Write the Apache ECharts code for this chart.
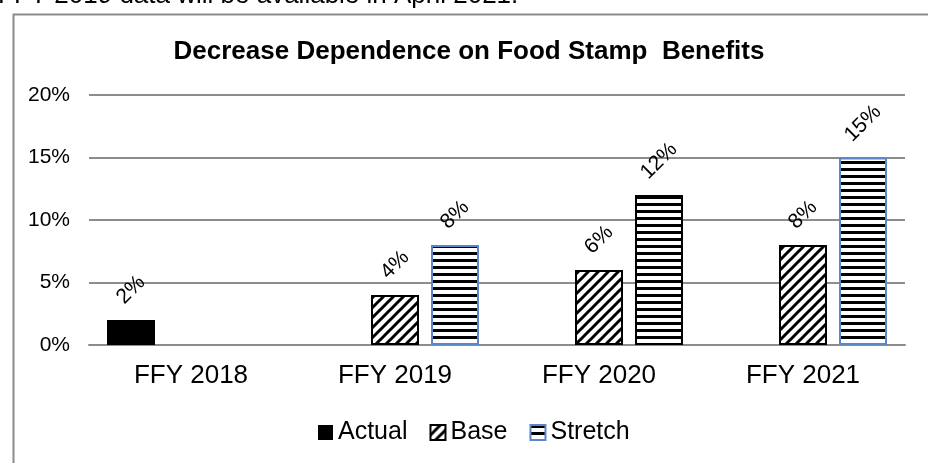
<!DOCTYPE html>
<html><head><meta charset="utf-8">
<script src="https://cdn.jsdelivr.net/npm/echarts@6/dist/echarts.min.js"></script>
<style>html,body{margin:0;padding:0;background:#fff}#c{width:928px;height:463px}</style>
</head><body><div id="c"></div>
<script>
var categories = ['FFY 2018', 'FFY 2019', 'FFY 2020', 'FFY 2021'];
var actualValues = [2, null, null, null];
var baseValues = [null, 4, 6, 8];
var stretchValues = [null, 8, 12, 15];
var yTicks = [0, 5, 10, 15, 20];
var titleText = 'Decrease Dependence on Food Stamp  Benefits';
var noteText = 'FFY 2019 data will be available in April 2021.';

var FONT = '"Liberation Sans", Arial, sans-serif';

function diagPattern() {
  var c = document.createElement('canvas');
  c.width = 10; c.height = 10;
  var g = c.getContext('2d');
  g.fillStyle = '#fff'; g.fillRect(0, 0, 10, 10);
  g.strokeStyle = '#000'; g.lineWidth = 3;
  for (var k = -1; k <= 1; k++) {
    g.beginPath();
    g.moveTo(k * 10 - 2, 12);
    g.lineTo(k * 10 + 12, -2);
    g.stroke();
  }
  return { image: c, repeat: 'repeat' };
}
function stripePattern() {
  var c = document.createElement('canvas');
  c.width = 8; c.height = 7;
  var g = c.getContext('2d');
  g.fillStyle = '#fff'; g.fillRect(0, 0, 8, 7);
  g.fillStyle = '#000'; g.fillRect(0, 0, 8, 3);
  return { image: c, repeat: 'repeat' };
}

var BLUE = '#5b86c8';
function labelFor(v) {
  var s = v + '%';
  return { distance: 22 + 4 * s.length };
}
function mkData(arr, extra) {
  return arr.map(function (v, i) {
    if (v == null) return null;
    var d = { value: v, label: labelFor(v) };
    if (extra) Object.assign(d, extra(i));
    return d;
  });
}

var labelCfg = {
  show: true, position: 'top', rotate: 45, align: 'center', verticalAlign: 'middle',
  color: '#000', fontFamily: FONT, fontSize: 21,
  formatter: function (p) { return p.value + '%'; }
};

var chart = echarts.init(document.getElementById('c'), null, { renderer: 'canvas' });
chart.setOption({
  backgroundColor: '#fff',
  animation: false,
  graphic: [
    { type: 'rect', left: 11, top: 12, shape: { x: 0, y: 0, width: 1000, height: 1000 },
      style: { fill: 'none', stroke: '#8c8c8c', lineWidth: 2 }, silent: true, z: -1 },
    { type: 'text', x: -2, y: -4, style: { text: noteText, font: '26px ' + FONT, fill: '#000',
      verticalAlign: 'middle' } }
  ],
  title: {
    text: titleText, left: 464, top: 34, textAlign: 'center',
    textStyle: { fontFamily: FONT, fontSize: 26, fontWeight: 'bold', color: '#000' }
  },
  legend: {
    left: 313, top: 415, icon: 'rect', itemWidth: 15, itemHeight: 15, itemGap: 22,
    textStyle: { fontFamily: FONT, fontSize: 25, color: '#000' },
    data: ['Actual', 'Base', 'Stretch'], selectedMode: false
  },
  grid: { left: 89, right: 23, top: 95, bottom: 118 },
  xAxis: {
    type: 'category', data: categories,
    axisLine: { show: true, lineStyle: { color: '#8c8c8c', width: 2 } },
    axisTick: { show: false },
    axisLabel: { fontFamily: FONT, fontSize: 26, color: '#000', margin: 18 }
  },
  yAxis: {
    type: 'value', min: yTicks[0], max: yTicks[yTicks.length - 1], interval: yTicks[1] - yTicks[0],
    axisLine: { show: false }, axisTick: { show: false },
    splitLine: { lineStyle: { color: '#8c8c8c', width: 2 } },
    axisLabel: { fontFamily: FONT, fontSize: 21, color: '#000', margin: 19, formatter: '{value}%' }
  },
  series: [
    { name: 'Actual', type: 'bar', barWidth: 48, barGap: '25%',
      itemStyle: { color: '#000' }, label: labelCfg, data: mkData(actualValues) },
    { name: 'Base', type: 'bar', barWidth: 48, barGap: '25%',
      itemStyle: { color: diagPattern(), borderColor: '#000', borderWidth: 2 },
      label: labelCfg, data: mkData(baseValues) },
    { name: 'Stretch', type: 'bar', barWidth: 48, barGap: '25%',
      itemStyle: { color: stripePattern(), borderColor: BLUE, borderWidth: 2 },
      label: labelCfg,
      data: mkData(stretchValues, function (i) {
        return categories[i] === 'FFY 2020' ? { itemStyle: { borderColor: '#000' } } : {};
      }) }
  ]
});
</script></body></html>
